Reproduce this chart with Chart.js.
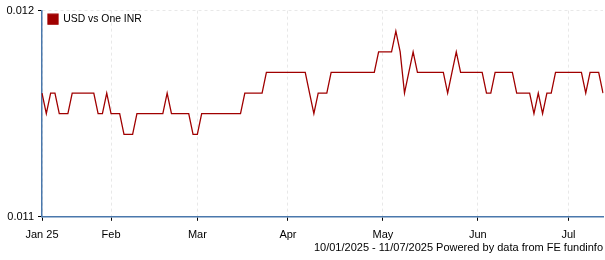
<!DOCTYPE html>
<html>
<head>
<meta charset="utf-8">
<script src="https://cdn.jsdelivr.net/npm/chart.js@4.4.1/dist/chart.umd.min.js"></script>
<style>
  html, body { margin: 0; padding: 0; background: #fff; }
  #wrap { position: relative; width: 605px; height: 260px; }
</style>
</head>
<body>
<div id="wrap"><canvas id="fxChart"></canvas></div>
<script>
// data
const seriesName = 'USD vs One INR';
const footerText = '10/01/2025 - 11/07/2025 Powered by data from FE fundinfo';
const startDate = '2025-01-10';
const endDate = '2025-07-11';
const monthNames = ['Jan', 'Feb', 'Mar', 'Apr', 'May', 'Jun', 'Jul', 'Aug', 'Sep', 'Oct', 'Nov', 'Dec'];
const yMin = 0.011;
const yMax = 0.012;

// one value per trading day (weekdays)
const usdInr = [
    0.0116, 0.0115, 0.0116, 0.0116, 0.0115, 0.0115, 0.0115, 0.0116, 0.0116, 0.0116,
    0.0116, 0.0116, 0.0116, 0.0115, 0.0115, 0.0116, 0.0115, 0.0115, 0.0115, 0.0114,
    0.0114, 0.0114, 0.0115, 0.0115, 0.0115, 0.0115, 0.0115, 0.0115, 0.0115, 0.0116,
    0.0115, 0.0115, 0.0115, 0.0115, 0.0115, 0.0114, 0.0114, 0.0115, 0.0115, 0.0115,
    0.0115, 0.0115, 0.0115, 0.0115, 0.0115, 0.0115, 0.0115, 0.0116, 0.0116, 0.0116,
    0.0116, 0.0116, 0.0117, 0.0117, 0.0117, 0.0117, 0.0117, 0.0117, 0.0117, 0.0117,
    0.0117, 0.0117, 0.0116, 0.0115, 0.0116, 0.0116, 0.0116, 0.0117, 0.0117, 0.0117,
    0.0117, 0.0117, 0.0117, 0.0117, 0.0117, 0.0117, 0.0117, 0.0117, 0.0118, 0.0118,
    0.0118, 0.0118, 0.0119, 0.0118, 0.0116, 0.0117, 0.0118, 0.0117, 0.0117, 0.0117,
    0.0117, 0.0117, 0.0117, 0.0117, 0.0116, 0.0117, 0.0118, 0.0117, 0.0117, 0.0117,
    0.0117, 0.0117, 0.0117, 0.0116, 0.0116, 0.0117, 0.0117, 0.0117, 0.0117, 0.0117,
    0.0116, 0.0116, 0.0116, 0.0116, 0.0115, 0.0116, 0.0115, 0.0116, 0.0116, 0.0117,
    0.0117, 0.0117, 0.0117, 0.0117, 0.0117, 0.0117, 0.0116, 0.0117, 0.0117, 0.0117,
    0.0116
];

// weekday dates between start and end
const dates = [];
for (let t = Date.parse(startDate); t <= Date.parse(endDate); t += 86400000) {
    const d = new Date(t);
    if (d.getUTCDay() !== 0 && d.getUTCDay() !== 6) dates.push(d);
}

// first trading day of each month gets a tick
const monthStarts = dates
    .map((d, i) => (i === 0 || d.getUTCMonth() !== dates[i - 1].getUTCMonth()) ? i : -1)
    .filter(i => i >= 0);

const FONT = { family: '"Liberation Sans", Arial, sans-serif', size: 11 };
const AXIS_BLUE = '#4a78ac';
const LINE_RED = '#a00000';

// legend sits inside the plot, nudge it a bit lower
const legendNudge = {
    id: 'legendNudge',
    afterLayout(chart) {
        const lg = chart.legend;
        if (!lg) return;
        lg.top += 9;
        lg.bottom += 9;
        lg.left += 1;
        lg.right += 1;
    }
};

new Chart(document.getElementById('fxChart'), {
    type: 'line',
    data: {
        labels: dates.map(d => d.toISOString().slice(0, 10)),
        datasets: [{
            label: seriesName,
            data: usdInr,
            borderColor: LINE_RED,
            backgroundColor: LINE_RED,
            borderWidth: 1.3,
            pointRadius: 0,
            tension: 0,
            fill: false
        }]
    },
    plugins: [legendNudge],
    options: {
        responsive: true,
        maintainAspectRatio: false,
        animation: false,
        layout: { padding: { top: 9, right: 2, left: 0, bottom: 0 } },
        plugins: {
            legend: {
                position: 'chartArea',
                align: 'start',
                labels: {
                    boxWidth: 10,
                    boxHeight: 10,
                    padding: 5,
                    color: '#000',
                    font: { ...FONT, size: 10.4 }
                }
            },
            title: {
                display: true,
                position: 'bottom',
                align: 'end',
                text: footerText,
                color: '#000',
                font: { ...FONT, weight: 'normal' },
                padding: { top: 0, bottom: 5 }
            },
            tooltip: { enabled: false }
        },
        scales: {
            x: {
                type: 'category',
                afterBuildTicks: axis => {
                    axis.ticks = axis.ticks.filter(t => monthStarts.includes(t.value));
                },
                afterFit: scale => { scale.height = 25; },
                grid: {
                    color: '#e8e8e8',
                    tickColor: '#000',
                    tickLength: 4,
                    tickBorderDash: []
                },
                border: { color: AXIS_BLUE, width: 1.5, dash: [3, 3] },
                ticks: {
                    autoSkip: false,
                    maxRotation: 0,
                    padding: 8,
                    color: '#000',
                    font: FONT,
                    callback: function (value) {
                        const d = dates[value];
                        return value === 0 ? 'Jan 25' : monthNames[d.getUTCMonth()];
                    }
                }
            },
            y: {
                min: yMin,
                max: yMax,
                afterFit: scale => { scale.width = 42; },
                grid: {
                    color: '#e8e8e8',
                    tickColor: '#000',
                    tickLength: 4,
                    tickBorderDash: []
                },
                border: { color: AXIS_BLUE, width: 1.5, dash: [3, 3] },
                ticks: {
                    stepSize: 0.001,
                    padding: 4,
                    color: '#000',
                    font: FONT,
                    callback: v => v.toFixed(3)
                }
            }
        }
    }
});
</script>
</body>
</html>
